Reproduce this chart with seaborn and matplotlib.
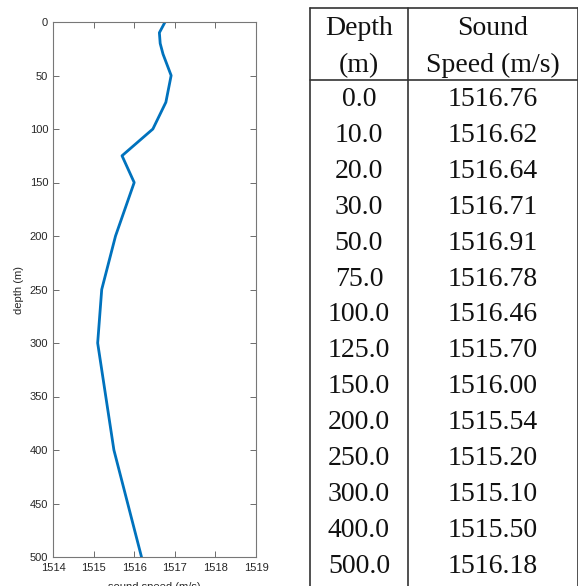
import matplotlib
matplotlib.use("Agg")
import matplotlib.pyplot as plt
import seaborn as sns
import pandas as pd

depth = [0, 10, 20, 30, 50, 75, 100, 125, 150, 200, 250, 300, 400, 500]
speed = [1516.76, 1516.62, 1516.64, 1516.71, 1516.91, 1516.78, 1516.46,
         1515.70, 1516.00, 1515.54, 1515.20, 1515.10, 1515.50, 1516.18]
header_col1 = ["Depth", "(m)"]
header_col2 = ["Sound", "Speed (m/s)"]
xticks = [1514, 1515, 1516, 1517, 1518, 1519]
yticks = list(range(0, 501, 50))

sns.set_style("white")
plt.rcParams["font.family"] = ["Liberation Sans", "DejaVu Sans"]

df = pd.DataFrame({"depth": depth, "speed": speed})

W, H = 578, 586
fig = plt.figure(figsize=(W / 100, H / 100), dpi=100)

# plot axes
ax = fig.add_axes([53 / W, 1 - 557 / H, (256 - 53) / W, (557 - 22) / H])
sns.lineplot(data=df, x="speed", y="depth", orient="y", sort=False,
             color="#0072BD", linewidth=2.0, ax=ax)
ax.set_xlim(1514, 1519)
ax.set_ylim(500, 0)
ax.set_xticks(xticks)
ax.set_yticks(yticks)
ax.set_xlabel("sound speed (m/s)", fontsize=8, color="#262626", labelpad=7)
ax.set_ylabel("depth (m)", fontsize=8, color="#262626", labelpad=4)
ax.tick_params(direction="in", length=4, width=0.6, colors="#555555",
               labelcolor="#262626", labelsize=8, top=True, right=True,
               bottom=True, left=True)
ax.tick_params(axis="x", pad=4)
ax.tick_params(axis="y", pad=3.5)
for s in ax.spines.values():
    s.set_visible(True)
    s.set_color("#777777")
    s.set_linewidth(0.8)

# table axes in pixel coordinates
tax = fig.add_axes([0, 0, 1, 1])
tax.set_xlim(0, W)
tax.set_ylim(H, 0)
tax.axis("off")
lc = "#333333"
lw = 1.2
x_left, x_mid, x_right = 310, 408, 577.5
y_top, y_head = 7.5, 80
tax.plot([x_left, x_right], [y_top, y_top], color=lc, lw=lw)
tax.plot([x_left, x_right], [y_head, y_head], color=lc, lw=lw)
tax.plot([x_left, x_left], [y_top, H], color=lc, lw=lw)
tax.plot([x_mid, x_mid], [y_top, H], color=lc, lw=lw)
tax.plot([x_right, x_right], [y_top, H], color=lc, lw=lw)

c1 = (x_left + x_mid) / 2
c2 = (x_mid + x_right) / 2
tfont = dict(family=["Liberation Serif", "DejaVu Serif"], fontsize=20,
             color="#111111", ha="center", va="baseline")
for i, (h1, h2) in enumerate(zip(header_col1, header_col2)):
    yb = 35 + 37 * i
    tax.text(c1, yb, h1, **tfont)
    tax.text(c2, yb, h2, **tfont)
for i, (d, s) in enumerate(zip(depth, speed)):
    yb = 106 + 35.9 * i
    tax.text(c1, yb, f"{d:.1f}", **tfont)
    tax.text(c2, yb, f"{s:.2f}", **tfont)

fig.savefig("out.png", dpi=100)
